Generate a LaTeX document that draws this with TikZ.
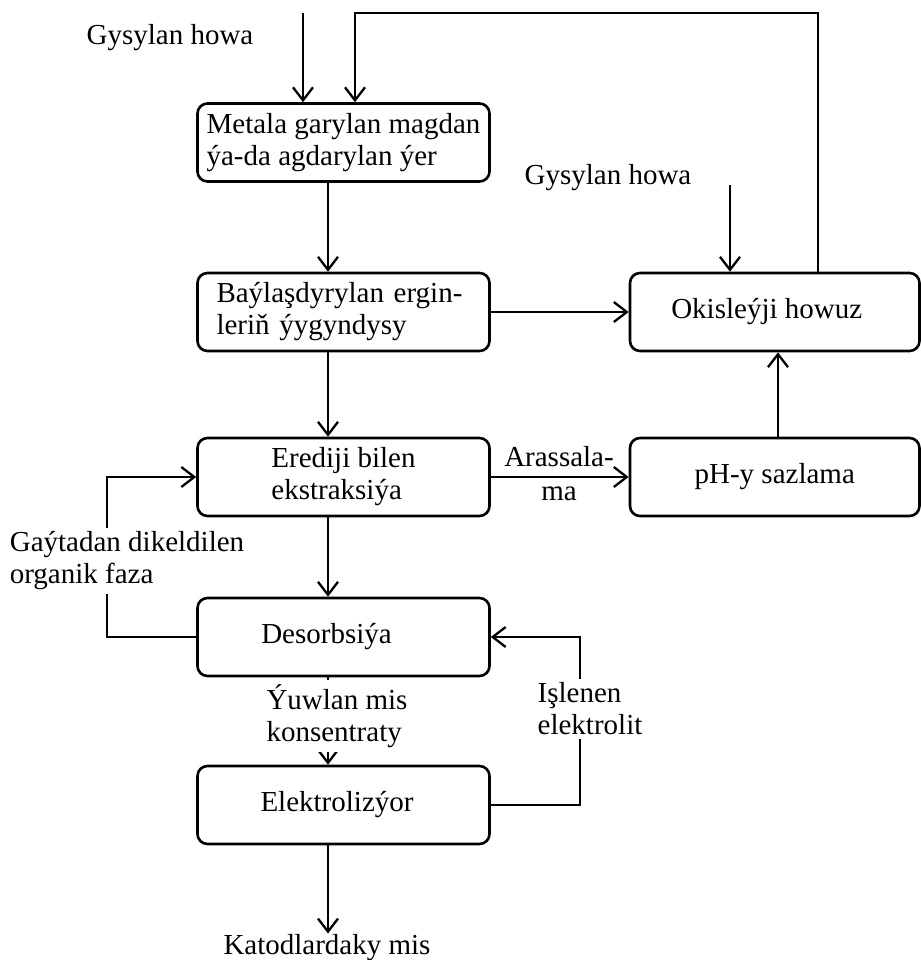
\documentclass[tikz,border=0pt]{standalone}
\usepackage{fontspec}
\setmainfont{Liberation Serif}
\usetikzlibrary{arrows.meta,calc}
\begin{document}
\begin{tikzpicture}[x=0.5pt,y=-0.5pt,
  font=\fontsize{14.5pt}{16pt}\selectfont,
  box/.style={draw,line width=1.3pt,rounded corners=5pt,minimum width=146pt,minimum height=39pt,inner sep=0pt},
  rbox/.style={box,minimum width=144.75pt},
  arr/.style={line width=1.15pt,-{Straight Barb[length=6.5pt,width=10pt]}},
  lbl/.style={inner sep=0pt},
  wlbl/.style={fill=white,inner sep=2pt,align=left}]
\useasboundingbox (0,0) rectangle (921,960);
% boxes
\node[box,align=left] (b1) at (343.5,142.5) {Metala garylan magdan\\ýa-da agdarylan ýer};
\node[box,text width=127pt,align=left] (b2) at (343.5,312) {Baýlaşdyrylan ergin-\\leriň ýygyndysy};
\node[box,align=left] (b3) at (343.5,477) {Erediji bilen\\ekstraksiýa};
\node[box] (b4) at (343.5,637) {Desorbsiýa\hspace*{17pt}};
\node[box] (b5) at (343.5,805) {Elektrolizýor\hspace*{6.5pt}};
\node[rbox] (ok) at (774.75,312) {Okisleýji howuz\hspace*{8pt}};
\node[rbox] (ph) at (774.75,477) {pH-y sazlama};
% free labels
\node[lbl] (g1) at (170,38) {Gysylan howa};
\node[lbl] (g2) at (608,178) {Gysylan howa};
\node[lbl,anchor=base] (kat) at (327,954) {Katodlardaky mis};
\node[lbl,align=center] (ar) at (559,474) {Arassala-\\[1pt]ma};
% coordinates
\coordinate (in1) at (303,13);
\coordinate (fb) at (818,13);
\coordinate (fbin) at (355,13);
\coordinate (in2) at (730,185);
\coordinate (vx) at (328,0);
\coordinate (px) at (778,0);
\coordinate (ix) at (580,0);
\coordinate (gx) at (107,0);
% connectors
\draw[arr] (in1) -- (in1 |- b1.north);
\draw[arr] (ok.north -| fb) -- (fb) -- (fbin) -- (fbin |- b1.north);
\draw[arr] (in2) -- (in2 |- ok.north);
\draw[arr] (b1.south -| vx) -- (b2.north -| vx);
\draw[arr] (b2.south -| vx) -- (b3.north -| vx);
\draw[arr] (b3.south -| vx) -- (b4.north -| vx);
\draw[arr] (b4.south -| vx) -- (b5.north -| vx);
\draw[arr] (b5.south -| vx) -- (kat.north -| vx);
\draw[arr] (b2.east) -- (ok.west);
\draw[arr] (b3.east) -- (ph.west);
\draw[arr] (ph.north -| px) -- (ok.south -| px);
\draw[arr] (b5.east) -| (ix |- b4.east) -- (b4.east);
\draw[arr] (b4.west) -| (gx |- b3.west) -- (b3.west);
% labels on lines
\node[wlbl] (yu) at (337,716) {Ýuwlan mis\\konsentraty};
\node[wlbl] (isl) at (590,709) {Işlenen\\elektrolit};
\node[wlbl] (gay) at (127,561) {Gaýtadan dikeldilen\\organik faza};
\end{tikzpicture}
\end{document}
